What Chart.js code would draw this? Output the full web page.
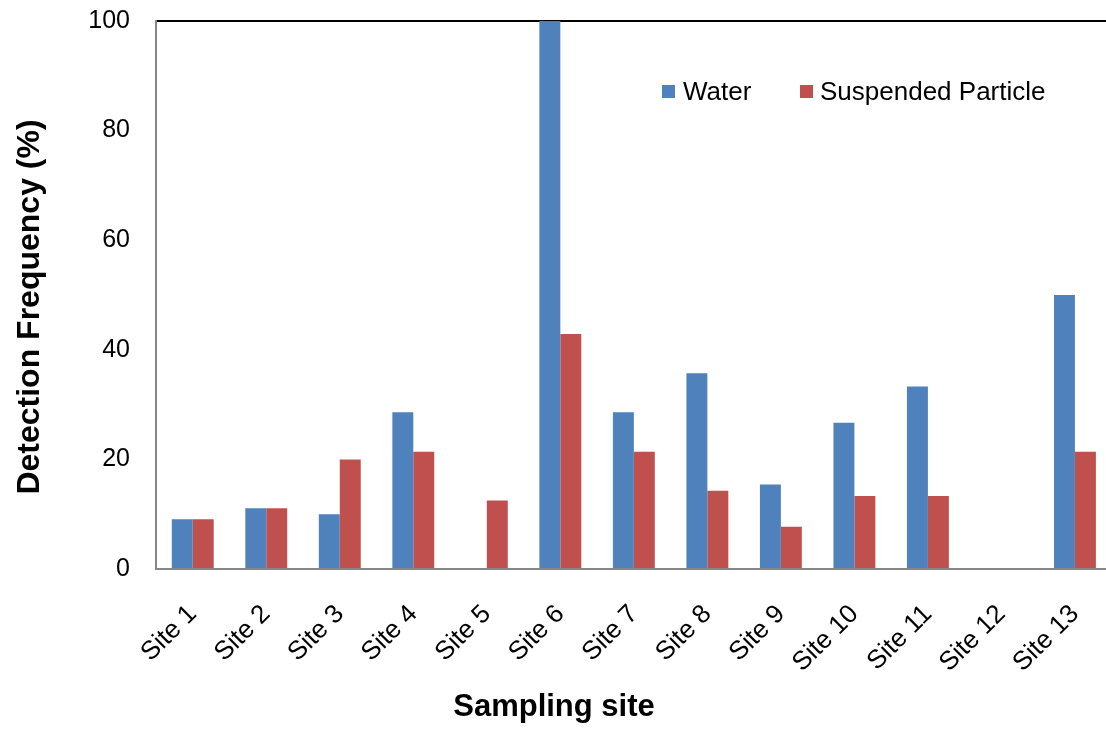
<!DOCTYPE html>
<html>
<head>
<meta charset="utf-8">
<script src="https://cdn.jsdelivr.net/npm/chart.js@4.4.1/dist/chart.umd.min.js"></script>
<style>
  html, body { margin: 0; padding: 0; background: #fff; overflow: hidden; }
  #wrap { position: absolute; left: 0; top: 0; width: 1127px; height: 730px; }
</style>
</head>
<body>
<div id="wrap"><canvas id="chart" width="1127" height="730"></canvas></div>
<script>
const sites = ["Site 1", "Site 2", "Site 3", "Site 4", "Site 5", "Site 6", "Site 7",
  "Site 8", "Site 9", "Site 10", "Site 11", "Site 12", "Site 13"]
const water = [9.1, 11.1, 10, 28.6, 0, 100, 28.6, 35.7, 15.4, 26.7, 33.3, 0, 50]
const suspended = [9.1, 11.1, 20, 21.4, 12.5, 42.9, 21.4, 14.3, 7.7, 13.3, 13.3, 0, 21.4]
const yTicks = [0, 20, 40, 60, 80, 100]

const colors = {
  water: "#4F81BD",
  suspended: "#C0504D",
  axis: "#868686",
  text: "#000",
}
const fontFamily = "'Liberation Sans', Arial, Helvetica, sans-serif"

// legend sits inside the plot, drawn by hand
const insideLegend = {
  id: "insideLegend",
  afterDraw(chart) {
    const ctx = chart.ctx
    const spots = [{ box: 662, text: 683 }, { box: 800, text: 820 }]
    ctx.save()
    ctx.font = "26px " + fontFamily
    ctx.textBaseline = "middle"
    chart.data.datasets.forEach((ds, i) => {
      ctx.fillStyle = ds.backgroundColor
      ctx.fillRect(spots[i].box, 85, 13, 13)
      ctx.fillStyle = colors.text
      ctx.fillText(ds.label, spots[i].text, 93)
    })
    ctx.restore()
  },
}

// axis titles, placed where the original had them (not centred on the plot)
const axisTitles = {
  id: "axisTitles",
  afterDraw(chart) {
    const ctx = chart.ctx
    ctx.save()
    ctx.fillStyle = colors.text
    ctx.textAlign = "center"
    ctx.font = "bold 31px " + fontFamily
    ctx.textBaseline = "alphabetic"
    ctx.fillText("Sampling site", 554, 716)
    ctx.translate(30, 307)
    ctx.rotate(-Math.PI / 2)
    ctx.font = "bold 32px " + fontFamily
    ctx.textBaseline = "middle"
    ctx.fillText("Detection Frequency (%)", 0, 0)
    ctx.restore()
  },
}

new Chart(document.getElementById("chart"), {
  type: "bar",
  data: {
    labels: sites,
    datasets: [
      { label: "Water", data: water, backgroundColor: colors.water },
      { label: "Suspended Particle", data: suspended, backgroundColor: colors.suspended },
    ],
  },
  options: {
    responsive: false,
    animation: false,
    devicePixelRatio: 1,
    layout: { padding: 0 },
    datasets: { bar: { categoryPercentage: 0.57, barPercentage: 1.0 } },
    plugins: {
      legend: { display: false },
      tooltip: { enabled: false },
    },
    scales: {
      x: {
        grid: { display: false, drawTicks: false },
        border: { color: colors.axis, width: 2 },
        ticks: {
          color: colors.text,
          font: { family: fontFamily, size: 26 },
          minRotation: 45,
          maxRotation: 45,
          padding: 30,
        },
        afterFit(scale) { scale.height = 161 },
      },
      y: {
        min: 0,
        max: 100,
        afterBuildTicks(scale) { scale.ticks = yTicks.map(v => ({ value: v })) },
        grid: {
          drawTicks: false,
          lineWidth: 2,
          color: (c) => (c.tick && c.tick.value === 100 ? "#000" : "rgba(0,0,0,0)"),
        },
        border: { color: colors.axis, width: 2 },
        ticks: {
          color: colors.text,
          font: { family: fontFamily, size: 25 },
          padding: 26,
        },
        afterFit(scale) {
          scale.width = 156
          scale.paddingTop = 21
          scale.paddingBottom = 0
        },
      },
    },
  },
  plugins: [insideLegend, axisTitles],
})
</script>
</body>
</html>
